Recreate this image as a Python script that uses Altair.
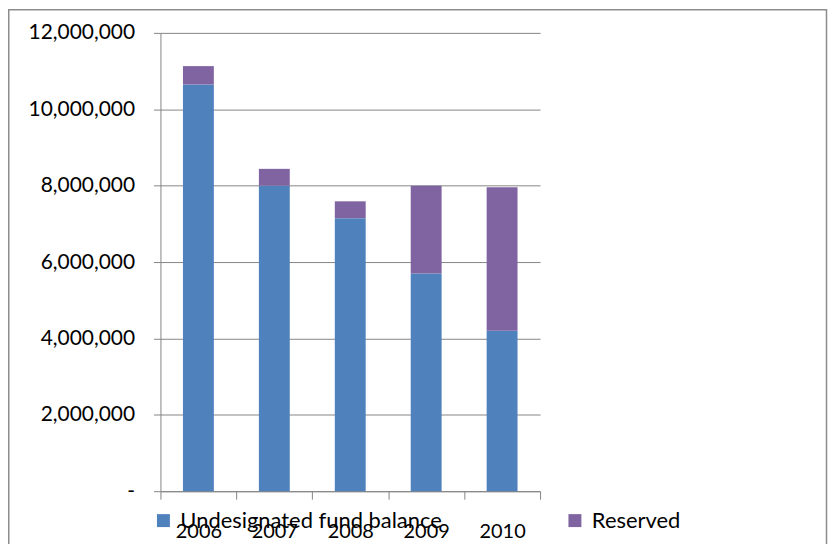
import altair as alt
import pandas as pd

years = ["2006", "2007", "2008", "2009", "2010"]
series = ["Undesignated fund balance", "Reserved"]
undesignated = [10650000, 8000000, 7150000, 5700000, 4200000]
reserved = [480000, 440000, 440000, 2300000, 3760000]
y_ticks = [0, 2000000, 4000000, 6000000, 8000000, 10000000, 12000000]
colors = ["#4F81BD", "#8064A2"]

rows = []
for i, yr in enumerate(years):
    rows.append({"year": yr, "series": series[0], "value": undesignated[i], "ord": 0})
    rows.append({"year": yr, "series": series[1], "value": reserved[i], "ord": 1})
df = pd.DataFrame(rows)

AX = "#868686"
FONT = "Lato"

bars = alt.Chart(df).mark_bar(width=31).encode(
    x=alt.X(
        "year:N",
        title=None,
        sort=years,
        scale=alt.Scale(paddingInner=0, paddingOuter=0),
        axis=alt.Axis(
            labelAngle=0,
            tickBand="extent",
            tickSize=8,
            labelPadding=22,
            domainColor=AX,
            tickColor=AX,
            labelFont=FONT,
            labelFontSize=20,
            labelColor="#000000",
            grid=False,
        ),
    ),
    y=alt.Y(
        "value:Q",
        stack="zero",
        title=None,
        scale=alt.Scale(domain=[0, 12000000], nice=False),
        axis=alt.Axis(
            values=y_ticks,
            labelExpr="datum.value == 0 ? '-' : format(datum.value, ',')",
            grid=True,
            gridColor=AX,
            domainColor=AX,
            tickColor=AX,
            tickSize=7,
            labelPadding=19,
            labelFont=FONT,
            labelFontSize=21,
            labelColor="#000000",
        ),
    ),
    color=alt.Color(
        "series:N",
        scale=alt.Scale(domain=series, range=colors),
        legend=alt.Legend(
            title=None,
            orient="none",
            legendX=-8,
            legendY=478.5,
            direction="horizontal",
            symbolType="square",
            symbolSize=169,
            symbolStrokeWidth=0,
            labelFont=FONT,
            labelFontSize=22,
            labelColor="#000000",
            labelOffset=6,
            labelLimit=0,
            columnPadding=122,
            padding=0,
        ),
    ),
    order=alt.Order("ord:Q", sort="ascending"),
)

border = alt.Chart(alt.Data(values=[{"a": 1}])).mark_rect(
    fillOpacity=0, stroke="#8c8c8c", strokeWidth=1.5
).encode(
    x=alt.value(-152.25),
    x2=alt.value(668.5),
    y=alt.value(-23.25),
    y2=alt.value(600),
)

chart = alt.layer(border, bars).properties(
    width=381,
    height=460,
    autosize=alt.AutoSizeParams(type="none"),
    padding={"left": 153, "top": 24, "right": 289, "bottom": 52},
).configure_view(stroke=None)

chart.save("out.html", embed_options={"renderer": "svg", "actions": False})
